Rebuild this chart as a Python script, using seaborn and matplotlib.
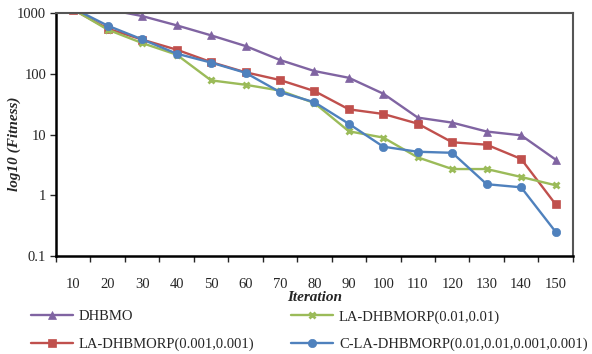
import numpy as np
import pandas as pd
import matplotlib
matplotlib.use("Agg")
import matplotlib.pyplot as plt
import seaborn as sns
from matplotlib.ticker import FixedLocator, FuncFormatter

# DATA
iterations = [10, 20, 30, 40, 50, 60, 70, 80, 90, 100, 110, 120, 130, 140, 150]
dhbmo = [2000, 1150, 894, 629, 430, 287, 169, 111, 86, 47, 19, 15.7, 11.2, 9.7, 3.87]
la_001 = [1140, 555, 366, 250, 156, 106, 79, 52, 26, 21.8, 15.1, 7.45, 6.8, 3.96, 0.71]
la_01 = [1150, 534, 321, 207, 78, 66, 53, 33, 11.3, 8.9, 4.2, 2.7, 2.7, 2.0, 1.46]
cla = [1200, 621, 369, 215, 153, 104, 50, 34, 15, 6.3, 5.2, 5.0, 1.52, 1.35, 0.25]

series = [
    ("DHBMO", dhbmo, "#8064A2", "^"),
    ("LA-DHBMORP(0.001,0.001)", la_001, "#C0504D", "s"),
    ("LA-DHBMORP(0.01,0.01)", la_01, "#9BBB59", "x"),
    ("C-LA-DHBMORP(0.01,0.01,0.001,0.001)", cla, "#4F81BD", "o"),
]

sns.set_style("white")
plt.rcParams['font.family'] = ['Liberation Serif', 'DejaVu Serif']

fig = plt.figure(figsize=(5.92, 3.54), dpi=100)
ax = fig.add_axes([0.0946, 0.277, 0.873, 0.686])

for name, vals, color, marker in series:
    df = pd.DataFrame({"iteration": iterations, "fitness": vals})
    kw = dict(markersize=6, markeredgewidth=0.5)
    if marker == "x":
        kw = dict(markersize=5, markeredgewidth=2)
    sns.lineplot(data=df, x="iteration", y="fitness", ax=ax, color=color,
                 marker=marker, linewidth=1.7, linestyle="-", label=name,
                 markeredgecolor=color, markerfacecolor=color, **kw)

ax.set_yscale("log")
ax.set_ylim(0.1, 1000)
ax.set_xlim(5, 155)

ax.yaxis.set_major_locator(FixedLocator([0.1, 1, 10, 100, 1000]))
ax.yaxis.set_minor_locator(FixedLocator([]))
ax.yaxis.set_major_formatter(FuncFormatter(lambda v, p: f"{v:g}"))
ax.tick_params(axis="y", which="major", direction="out", length=4, width=1,
               left=True, labelsize=10.5, pad=3)

ax.set_xticks(iterations)
ax.set_xticks(np.arange(5, 160, 10), minor=True)
ax.tick_params(axis="x", which="major", length=0, labelsize=10.5, pad=16)
ax.tick_params(axis="x", which="minor", direction="out", length=4, width=1, bottom=True)

for side in ["left", "bottom"]:
    ax.spines[side].set_color("black")
    ax.spines[side].set_linewidth(1.8)
for side in ["top", "right"]:
    ax.spines[side].set_color("#555555")
    ax.spines[side].set_linewidth(1.5)

ax.set_xlabel("Iteration", fontsize=11, fontweight="bold", fontstyle="italic", labelpad=0)
ax.set_ylabel("log10 (Fitness)", fontsize=11, fontweight="bold", fontstyle="italic")
ax.yaxis.set_label_coords(-0.068, 0.46)

handles, labels = ax.get_legend_handles_labels()
ax.get_legend().remove()
fig.legend(handles, labels, loc="lower left", bbox_to_anchor=(0.042, -0.008), ncol=2,
           frameon=False, fontsize=10.5, handlelength=2.9, columnspacing=2.5,
           labelspacing=0.95, handletextpad=0.4, borderaxespad=0.2, borderpad=0.2)

fig.savefig("out.png", dpi=100)
